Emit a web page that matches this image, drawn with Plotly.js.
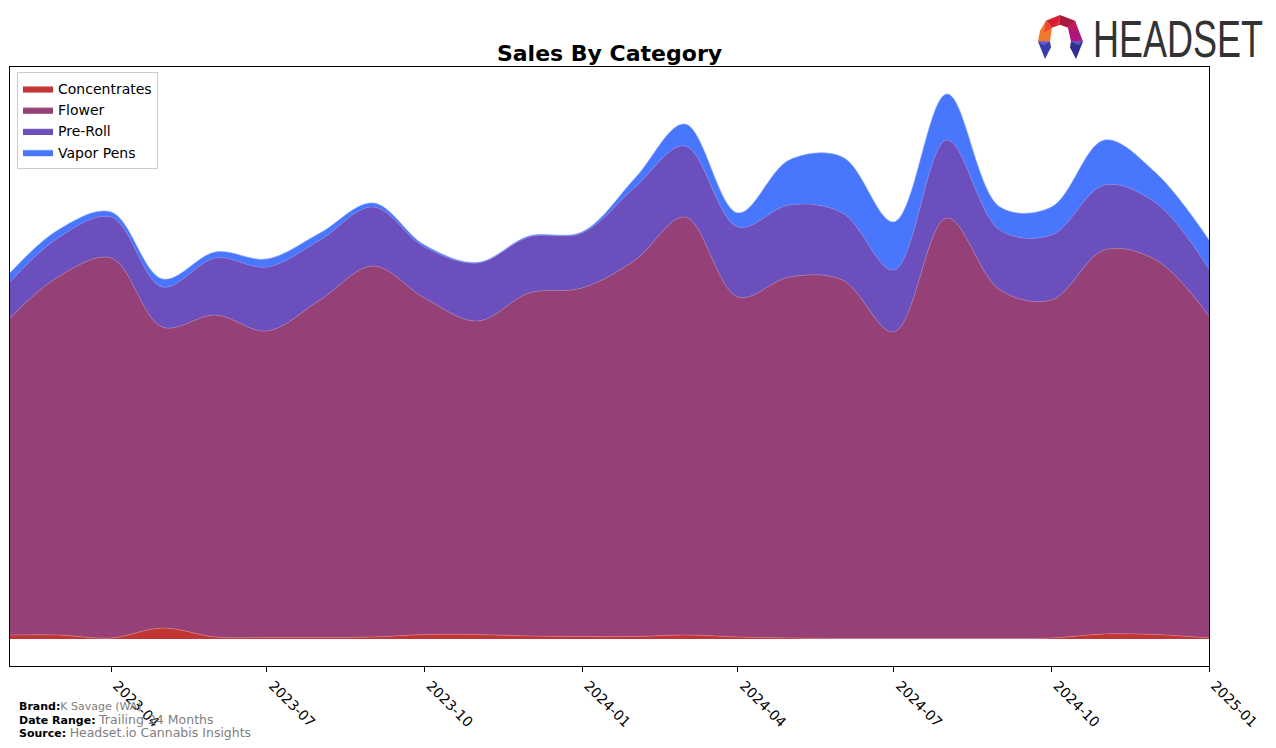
<!DOCTYPE html>
<html>
<head>
<meta charset="utf-8">
<script src="https://cdn.plot.ly/plotly-3.0.1.min.js"></script>
<style>
  html, body { margin: 0; padding: 0; background: #fff; }
  #chart { width: 1276px; height: 748px; }
</style>
</head>
<body>
<div id="chart"></div>
<script>
// Monthly dates
const months = ['2023-02-01','2023-03-01','2023-04-01','2023-05-01','2023-06-01','2023-07-01',
  '2023-08-01','2023-09-01','2023-10-01','2023-11-01','2023-12-01','2024-01-01',
  '2024-02-01','2024-03-01','2024-04-01','2024-05-01','2024-06-01','2024-07-01',
  '2024-08-01','2024-09-01','2024-10-01','2024-11-01','2024-12-01','2025-01-01'];

// Series values (relative sales units)
const concentrates = [4, 4, 1, 11, 2, 1.5, 1.5, 2, 4.5, 4.5, 3, 2.5,
  2.5, 4, 2, 1, 0.5, 0.5, 0.5, 0.5, 1, 5, 4.5, 1];
const flower = [317, 358, 380, 301, 322, 306.5, 337.5, 371, 336.5, 313.5, 343, 348.5,
  376.5, 418, 340, 361, 358.5, 306.5, 420.5, 348.5, 338, 384, 374.5, 322];
const preRoll = [36, 39, 41, 40, 57, 64, 60, 59, 51, 58, 56, 55,
  73, 71, 70, 72, 67, 62, 78, 60, 65, 65, 57, 47];
const vaporPens = [9, 8, 5, 8, 6, 8, 7, 4, 2, 0.5, 1, 1,
  9, 22, 14, 45, 56, 48, 46, 23, 28, 45, 30, 29];

const categories = ['Concentrates', 'Flower', 'Pre-Roll', 'Vapor Pens'];
const seriesValues = [concentrates, flower, preRoll, vaporPens];
const fillColors = ['#c33535', '#954177', '#6a4fbd', '#4877fe'];
const lineColors = ['#d98080', '#b27aa0', '#8f7ed0', '#7fa0ff'];

const tickVals = ['2023-04-01','2023-07-01','2023-10-01','2024-01-01','2024-04-01',
  '2024-07-01','2024-10-01','2025-01-01'];
const tickLabels = ['2023-04','2023-07','2023-10','2024-01','2024-04','2024-07','2024-10','2025-01'];

const traces = categories.map((name, i) => ({
  type: 'scatter',
  mode: 'lines',
  name: name,
  x: months,
  y: seriesValues[i],
  stackgroup: 'one',
  fill: 'tonexty',
  fillcolor: fillColors[i],
  line: { shape: 'spline', smoothing: 1.0, width: 0.6, color: lineColors[i] },
  hoverinfo: 'x+y+name'
}));

// Plot area in pixels: left 10, right 1209, top 67, bottom 666
const L = 10, R = 1209, T = 67, B = 666;
const W = 1276, H = 748;
const px = x => (x - L) / (R - L);
const py = y => (B - y) / (B - T);

const logoSvg = `<svg xmlns='http://www.w3.org/2000/svg' viewBox='0 0 46 46'>
<polygon points='8,6 22,0 22,10 14,13' fill='#d6202f'/>
<polygon points='22,0 37,6 30,13 22,10' fill='#a8193f'/>
<polygon points='22,0 22,10 18,11' fill='#e8343a'/>
<polygon points='8,6 14,13 12,27 0,27 2,16' fill='#f07a2a'/>
<polygon points='8,6 14,13 6,18' fill='#e9452f'/>
<polygon points='37,6 45,27 33,27 30,13' fill='#b0157a'/>
<polygon points='37,6 40,16 30,13' fill='#c5195e'/>
<polygon points='0,27 12,27 13,33 7,45' fill='#3b3ea8'/>
<polygon points='0,27 12,27 6,31' fill='#6a5ad0'/>
<polygon points='33,27 45,27 38,45 32,33' fill='#2e2f8e'/>
<polygon points='33,27 45,27 40,31' fill='#5b52c4'/>
</svg>`;
const logoUri = 'data:image/svg+xml;charset=utf-8,' + encodeURIComponent(logoSvg);

const layout = {
  width: W, height: H,
  margin: { l: L, r: W - R, t: T, b: H - B, pad: 0 },
  paper_bgcolor: '#ffffff',
  plot_bgcolor: '#ffffff',
  font: { family: 'DejaVu Sans, sans-serif', size: 14, color: '#000' },
  title: {
    text: 'Sales By Category',
    font: { family: 'DejaVu Sans, sans-serif', size: 22, weight: 'bold', color: '#000' },
    x: 0.5, xref: 'paper', xanchor: 'center',
    y: 1 - 53 / H, yref: 'container', yanchor: 'middle'
  },
  showlegend: true,
  legend: {
    x: px(17), y: py(72), xanchor: 'left', yanchor: 'top',
    bgcolor: '#ffffff', bordercolor: '#cccccc', borderwidth: 1,
    font: { family: 'DejaVu Sans, sans-serif', size: 14, color: '#000' },
    traceorder: 'normal',
    tracegroupgap: 0
  },
  xaxis: {
    type: 'date',
    range: ['2023-02-01', '2025-01-01'],
    tickvals: tickVals,
    ticktext: tickLabels,
    tickangle: 45,
    ticklabelshift: 6,
    ticks: 'outside', ticklen: 5, tickwidth: 1, tickcolor: '#000',
    showgrid: false, zeroline: false,
    showline: true, linecolor: '#000', linewidth: 1, mirror: true,
    tickfont: { family: 'DejaVu Sans, sans-serif', size: 14, color: '#000' }
  },
  yaxis: {
    range: [-27, 572],
    showticklabels: false, ticks: '',
    showgrid: false, zeroline: false,
    showline: true, linecolor: '#000', linewidth: 1, mirror: true
  },
  images: [{
    source: logoUri,
    xref: 'paper', yref: 'paper',
    x: px(1038), y: py(15),
    sizex: 46 / (R - L), sizey: 45 / (B - T),
    xanchor: 'left', yanchor: 'top',
    sizing: 'stretch', layer: 'above'
  }],
  annotations: [
    {
      text: 'HEADSET',
      xref: 'paper', yref: 'paper',
      x: px(1091), y: py(39), xanchor: 'left', yanchor: 'middle',
      showarrow: false,
      font: { family: 'Liberation Sans, sans-serif', size: 36, color: '#333333' }
    },
    {
      text: "<b>Brand:</b><span style='color:#808080;font-size:11px'>K Savage (WA)</span>",
      xref: 'paper', yref: 'paper',
      x: px(17), y: py(706), xanchor: 'left', yanchor: 'middle',
      showarrow: false, font: { family: 'DejaVu Sans, sans-serif', size: 11, color: '#000' }
    },
    {
      text: "<b>Date Range:</b> <span style='color:#808080;font-size:12.5px'>Trailing 24 Months</span>",
      xref: 'paper', yref: 'paper',
      x: px(17), y: py(719), xanchor: 'left', yanchor: 'middle',
      showarrow: false, font: { family: 'DejaVu Sans, sans-serif', size: 11, color: '#000' }
    },
    {
      text: "<b>Source:</b> <span style='color:#808080;font-size:12.5px'>Headset.io Cannabis Insights</span>",
      xref: 'paper', yref: 'paper',
      x: px(17), y: py(732), xanchor: 'left', yanchor: 'middle',
      showarrow: false, font: { family: 'DejaVu Sans, sans-serif', size: 11, color: '#000' }
    }
  ]
};

Plotly.newPlot('chart', traces, layout, { displayModeBar: false, staticPlot: true }).then(() => {
  document.querySelectorAll('.annotation-text').forEach(t => {
    if (t.textContent === 'HEADSET') {
      const bb = t.getBBox();
      const cy = bb.y + bb.height / 2;
      t.setAttribute('transform', `translate(0,${cy}) scale(1,1.45) translate(0,${-cy})`);
    }
  });
});
</script>
</body>
</html>
